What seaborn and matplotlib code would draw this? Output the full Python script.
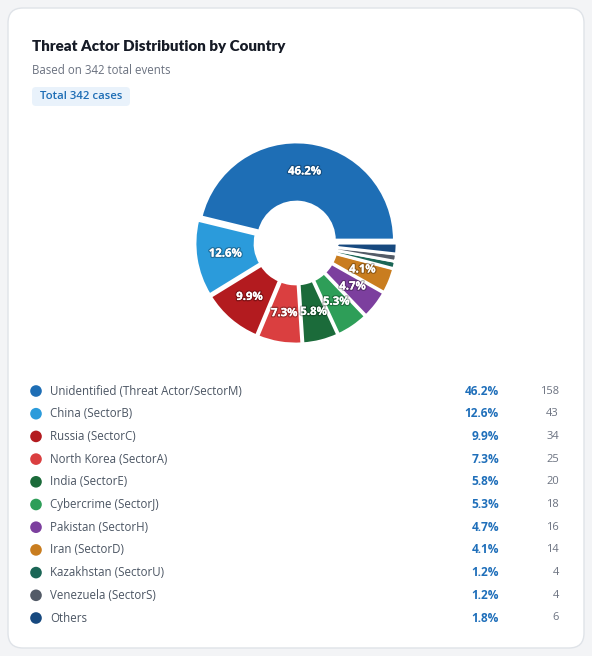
import numpy as np
import pandas as pd
import matplotlib
matplotlib.use("Agg")
import matplotlib.pyplot as plt
import matplotlib.patheffects as pe
from matplotlib.patches import FancyBboxPatch
import seaborn as sns

# ---------------- data ----------------
labels = [
    "Unidentified (Threat Actor/SectorM)",
    "China (SectorB)",
    "Russia (SectorC)",
    "North Korea (SectorA)",
    "India (SectorE)",
    "Cybercrime (SectorJ)",
    "Pakistan (SectorH)",
    "Iran (SectorD)",
    "Kazakhstan (SectorU)",
    "Venezuela (SectorS)",
    "Others",
]
counts = [158, 43, 34, 25, 20, 18, 16, 14, 4, 4, 6]
percents = [46.2, 12.6, 9.9, 7.3, 5.8, 5.3, 4.7, 4.1, 1.2, 1.2, 1.8]
colors = ["#1e6eb5", "#2b9bdb", "#b31b1f", "#da3f40", "#1b6b3a", "#2e9e58",
          "#7c3f9e", "#c97d1f", "#1b6656", "#535b67", "#17497f"]
title = "Threat Actor Distribution by Country"
subtitle = "Based on 342 total events"
badge = "Total 342 cases"

sns.set_theme(style="white")
plt.rcParams["font.family"] = ["Open Sans", "DejaVu Sans"]

W, H = 592, 656
fig = plt.figure(figsize=(W / 100, H / 100), dpi=100)
fig.patch.set_facecolor("#f3f4f6")

# background / card axes in pixel coordinates
bg = fig.add_axes([0, 0, 1, 1])
bg.set_xlim(0, W)
bg.set_ylim(H, 0)
bg.axis("off")
bg.patch.set_alpha(0)
card = FancyBboxPatch((8, 8), 576, 640, boxstyle="round,pad=0,rounding_size=15",
                      facecolor="white", edgecolor="#dfe3e8", linewidth=1.0, zorder=1)
bg.add_patch(card)
bg.text(32, 46.5, title, fontsize=10.9, fontweight="heavy", color="#161b26",
        va="center", ha="left", zorder=3, family=["Lato", "DejaVu Sans"])
bg.text(32, 70, subtitle, fontsize=8.3, color="#6b7280", va="center", ha="left", zorder=3)
bb = FancyBboxPatch((32, 87), 98, 19, boxstyle="round,pad=0,rounding_size=4",
                    facecolor="#e9f2fb", edgecolor="none", zorder=2)
bg.add_patch(bb)
bg.text(40, 96.5, badge, fontsize=8.2, fontweight="semibold", color="#1d6db5",
        va="center", ha="left", zorder=3)

# ---------------- donut ----------------
cx, cy, half = 296, 243, 110
pax = fig.add_axes([(cx - half) / W, 1 - (cy + half) / H, 2 * half / W, 2 * half / H])
pax.axis("off")
pax.patch.set_alpha(0)

def fmt(p):
    return f"{p:.1f}%" if p >= 3 else ""

wedges, texts, autotexts = pax.pie(
    counts, colors=colors, startangle=0, counterclock=True, radius=0.98,
    explode=[0.03] * len(counts),
    wedgeprops=dict(width=0.60, edgecolor="white", linewidth=2.0),
    autopct=fmt, pctdistance=0.70,
    textprops=dict(color="white", fontsize=8.2, fontweight="bold"),
)
pax.set_xlim(-1.1, 1.1)
pax.set_ylim(-1.1, 1.1)
pax.set_aspect("equal")
for t in autotexts:
    t.set_path_effects([pe.withStroke(linewidth=2.0, foreground=(0, 0, 0, 0.28)), pe.Normal()])

# ---------------- legend table ----------------
top_px, bot_px = 380, 632
row0, step = 391, 22.7
lax = fig.add_axes([0, 1 - bot_px / H, 1, (bot_px - top_px) / H])
lax.set_xlim(0, W)
lax.set_ylim((bot_px - row0) / step, (top_px - row0) / step)
lax.axis("off")
lax.patch.set_alpha(0)

df = pd.DataFrame({"label": labels, "count": counts, "pct": percents,
                   "row": np.arange(len(labels)), "x": 36.0})
sns.scatterplot(data=df, x="x", y="row", hue="label", palette=colors, s=70,
                edgecolor="none", legend=False, ax=lax)
lax.set_xlabel("")
lax.set_ylabel("")
for i, r in df.iterrows():
    lax.text(50, r["row"], r["label"], fontsize=8.3, color="#4b5563", va="center", ha="left")
    lax.text(499, r["row"], f"{r['pct']:.1f}%", fontsize=8.6, fontweight="bold",
             color="#1f6fba", va="center", ha="right")
    lax.text(559, r["row"], f"{int(r['count'])}", fontsize=8, color="#6b7280",
             va="center", ha="right")

fig.savefig("out.png", dpi=100, facecolor=fig.get_facecolor())
